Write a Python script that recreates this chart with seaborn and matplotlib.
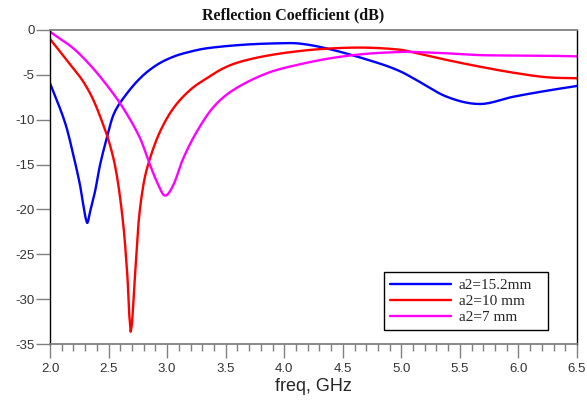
import matplotlib
matplotlib.use("Agg")
import matplotlib.pyplot as plt
from matplotlib.ticker import MultipleLocator
import numpy as np
import pandas as pd
import seaborn as sns

### Values (freq in GHz, dB)
freq_blue = [2.0, 2.085, 2.143, 2.199, 2.256, 2.299, 2.319, 2.342, 2.384, 2.427, 2.484,
             2.541, 2.626, 2.769, 2.911, 3.053, 3.196, 3.338, 3.623, 3.9, 4.135, 4.417,
             4.818, 4.989, 5.102, 5.388, 5.67, 5.956, 6.242, 6.5]
db_blue = [-5.94, -8.73, -10.96, -13.94, -17.28, -20.62, -21.5, -20.26, -18.03, -15.05, -12.07,
           -9.48, -7.61, -5.38, -3.9, -2.98, -2.42, -2.04, -1.67, -1.5, -1.52, -2.23,
           -3.75, -4.6, -5.38, -7.44, -8.25, -7.44, -6.77, -6.24]

freq_red = [2.0, 2.085, 2.199, 2.284, 2.37, 2.455, 2.512, 2.57, 2.626, 2.66, 2.689,
            2.726, 2.754, 2.797, 2.854, 2.939, 3.053, 3.196, 3.338, 3.48, 3.623, 3.851,
            4.135, 4.419, 4.705, 4.989, 5.102, 5.388, 5.67, 5.956, 6.242, 6.5]
db_red = [-1.0, -2.4, -4.27, -5.76, -7.8, -10.59, -12.82, -16.17, -21.74, -27.31, -33.63,
          -27.31, -21.74, -17.28, -14.3, -11.34, -8.73, -6.69, -5.38, -4.27, -3.55, -2.87,
          -2.34, -2.04, -1.97, -2.2, -2.5, -3.34, -4.09, -4.76, -5.27, -5.38]

freq_pink = [2.0, 2.057, 2.199, 2.342, 2.484, 2.626, 2.769, 2.854, 2.925, 2.982, 3.053,
             3.138, 3.253, 3.395, 3.565, 3.851, 4.135, 4.419, 4.705, 4.989, 5.102, 5.388,
             5.67, 5.956, 6.242, 6.5]
db_pink = [-0.19, -0.72, -2.04, -3.9, -6.13, -8.73, -12.07, -15.05, -17.28, -18.47, -17.28,
           -14.3, -11.34, -8.6, -6.69, -4.83, -3.82, -3.1, -2.65, -2.45, -2.45, -2.6,
           -2.8, -2.85, -2.87, -2.94]

labels = ["a2=15.2mm", "a2=10 mm", "a2=7 mm"]
colors = ["#0000FF", "#FF0000", "#FF00FF"]
x_ticks = [2.0, 2.5, 3.0, 3.5, 4.0, 4.5, 5.0, 5.5, 6.0, 6.5]
y_ticks = [0, -5, -10, -15, -20, -25, -30, -35]


def smooth(xs, ys, n=400):
    """Catmull-Rom style cubic through the read points, just for a smooth curve."""
    xs = np.asarray(xs, dtype=float)
    ys = np.asarray(ys, dtype=float)
    m = np.empty_like(ys)
    m[1:-1] = (ys[2:] - ys[:-2]) / (xs[2:] - xs[:-2])
    m[0] = (ys[1] - ys[0]) / (xs[1] - xs[0])
    m[-1] = (ys[-1] - ys[-2]) / (xs[-1] - xs[-2])
    xx = np.linspace(xs[0], xs[-1], n)
    xx = np.unique(np.concatenate([xx, xs]))
    idx = np.clip(np.searchsorted(xs, xx, side="right") - 1, 0, len(xs) - 2)
    h = xs[idx + 1] - xs[idx]
    t = (xx - xs[idx]) / h
    h00 = 2 * t**3 - 3 * t**2 + 1
    h10 = t**3 - 2 * t**2 + t
    h01 = -2 * t**3 + 3 * t**2
    h11 = t**3 - t**2
    yy = h00 * ys[idx] + h10 * h * m[idx] + h01 * ys[idx + 1] + h11 * h * m[idx + 1]
    return xx, yy


def main():
    frames = []
    for lab, fx, fy in zip(labels, [freq_blue, freq_red, freq_pink], [db_blue, db_red, db_pink]):
        xx, yy = smooth(fx, fy)
        frames.append(pd.DataFrame({"freq": xx, "dB": yy, "series": lab}))
    data = pd.concat(frames, ignore_index=True)

    sns.set_style("white")
    fig = plt.figure(figsize=(5.87, 4.03), dpi=100)
    ax = fig.add_axes([0.0852, 0.1464, 0.8978, 0.7792])

    sns.lineplot(data=data, x="freq", y="dB", hue="series", hue_order=labels,
                 palette=colors, linewidth=1.7, ax=ax, sort=False, estimator=None)

    ax.set_xlim(2.0, 6.5)
    ax.set_ylim(-35, 0)
    ax.set_xticks(x_ticks)
    ax.set_xticklabels([f"{v:.1f}" for v in x_ticks])
    ax.set_yticks(y_ticks)
    ax.set_yticklabels([str(v) for v in y_ticks])
    ax.xaxis.set_minor_locator(MultipleLocator(0.1))

    ax.tick_params(axis="x", which="major", direction="out", length=10, width=1,
                   color="#808080", labelsize=9.5, labelcolor="#333333", pad=4, bottom=True)
    ax.tick_params(axis="x", which="minor", direction="out", length=5, width=1,
                   color="#808080", bottom=True)
    ax.tick_params(axis="y", which="major", direction="out", length=10, width=1,
                   color="#808080", labelsize=9.5, labelcolor="#333333", pad=1, left=True)
    for lab in ax.get_xticklabels() + ax.get_yticklabels():
        lab.set_family("Liberation Sans")

    for side in ["top", "bottom"]:
        ax.spines[side].set_color("#808080")
        ax.spines[side].set_linewidth(1.3)
    for side in ["left", "right"]:
        ax.spines[side].set_color("black")
        ax.spines[side].set_linewidth(1.0)

    fig.text(0.5, 0.962, "Reflection Coefficient (dB)", family="Liberation Serif",
             fontweight="bold", fontsize=11.5, ha="center", va="center", color="#111111")
    ax.set_xlabel("freq, GHz", family="Liberation Sans", fontsize=13, labelpad=2)
    ax.set_ylabel("")

    leg = ax.legend(loc="lower left", bbox_to_anchor=(0.634, 0.0446, 0.311, 0.197),
                    mode="expand", borderaxespad=0, frameon=True, fancybox=False,
                    framealpha=1, edgecolor="black", handlelength=4.0, borderpad=0.4,
                    labelspacing=0.15, handletextpad=0.5,
                    prop={"family": "Liberation Serif", "size": 11})
    leg.get_frame().set_linewidth(1.0)

    fig.savefig("out.png", dpi=100)


if __name__ == '__main__':
    main()
